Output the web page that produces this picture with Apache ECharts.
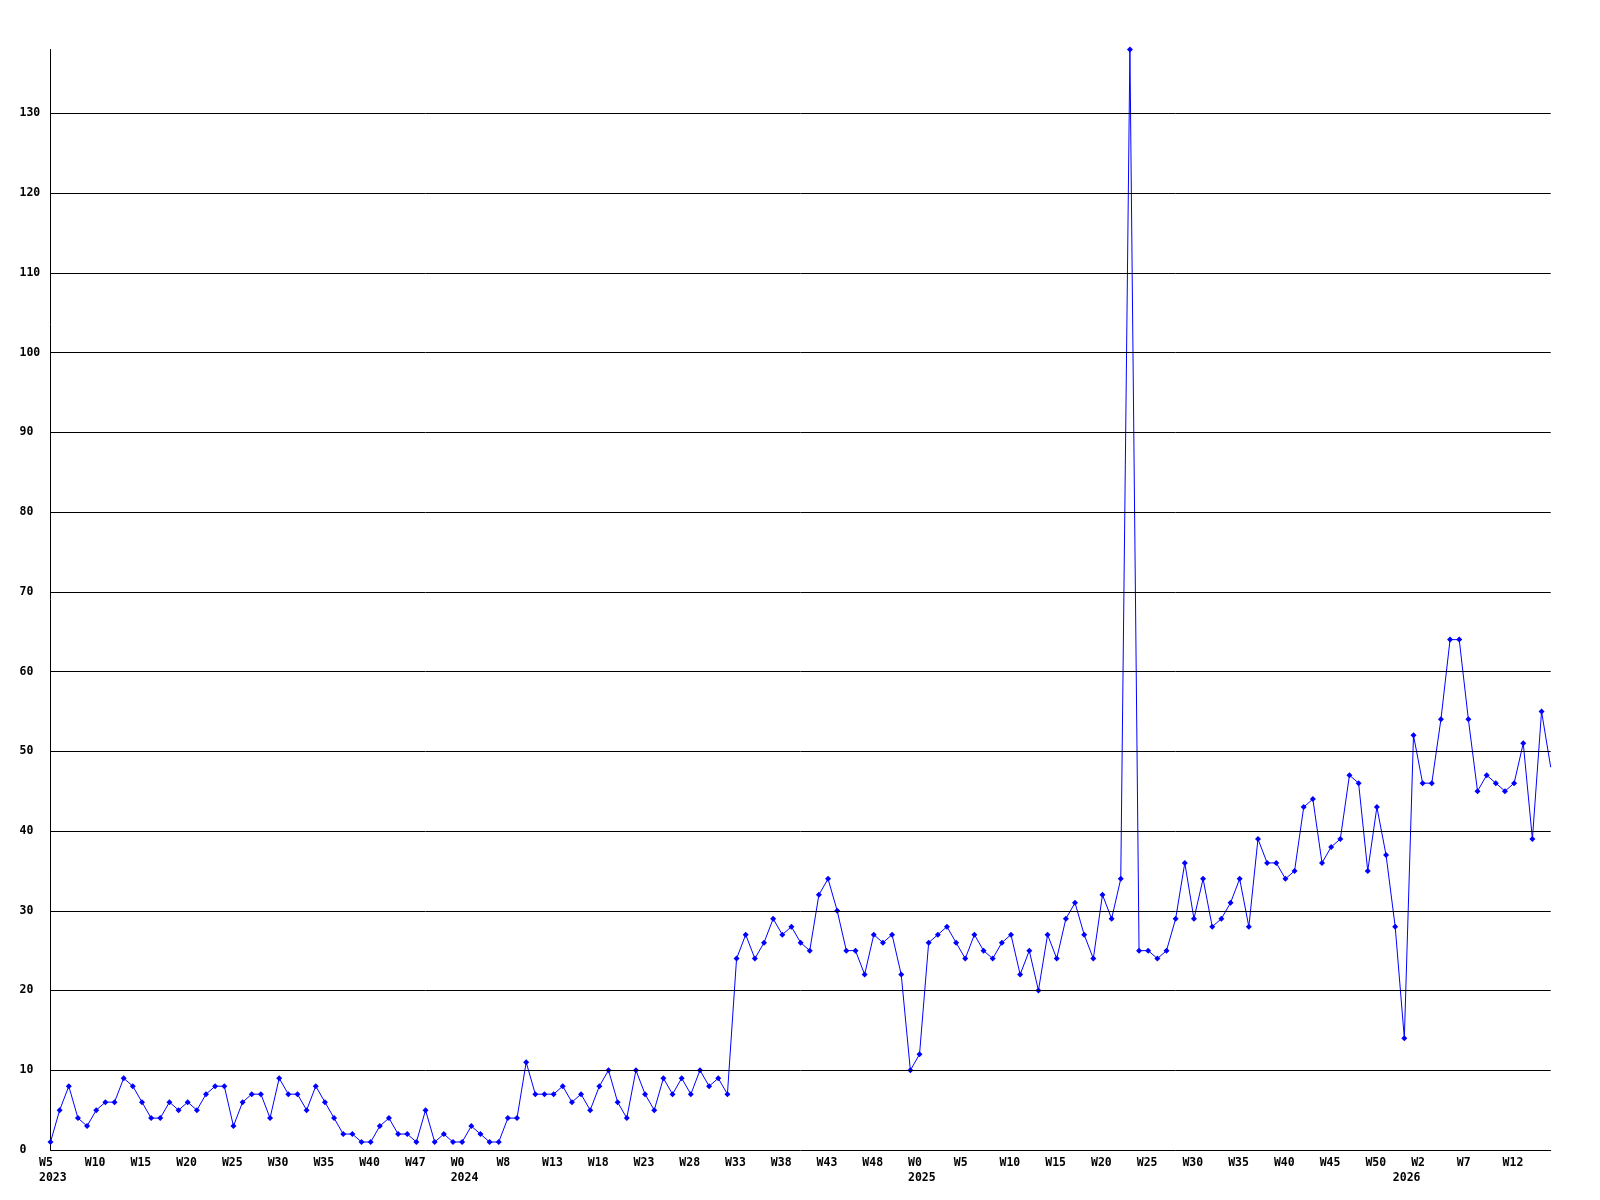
<!DOCTYPE html>
<html>
<head>
<meta charset="utf-8">
<script src="https://cdn.jsdelivr.net/npm/echarts@6/dist/echarts.min.js"></script>
<style>
html, body { margin: 0; padding: 0; background: #ffffff; }
#chart { width: 1600px; height: 1200px; }
</style>
</head>
<body>
<div id="chart"></div>
<script>
// Weekly values, one per point (last point is the partial, unmarked one at the right edge)
const values2023 = [1,5,8,4,3,5,6,6,9,8,6,4,4,6,5,6,5,7,8,8,3,6,7,7,4,9,7,7,5,8,6,4,2,2,1,1,3,4,2,2,1,5,1,2,1,1];
const values2024 = [3,2,1,1,4,4,11,7,7,7,8,6,7,5,8,10,6,4,10,7,5,9,7,9,7,10,8,9,7,24,27,24,26,29,27,28,26,25,32,34,30,25,25,22,27,26,27,22,10,12];
const values2025 = [26,27,28,26,24,27,25,24,26,27,22,25,20,27,24,29,31,27,24,32,29,34,138,25,25,24,25,29,36,29,34,28,29,31,34,28,39,36,36,34,35,43,44,36,38,39,47,46,35,43,37,28,14];
const values2026 = [52,46,46,54,64,64,54,45,47,46,45,46,51,39,55,48];

// Tick labels shown under every 5th point
const weekTicks = ['W5','W10','W15','W20','W25','W30','W35','W40','W47','W0','W8','W13','W18','W23','W28','W33','W38','W43','W48','W0','W5','W10','W15','W20','W25','W30','W35','W40','W45','W50','W2','W7','W12'];
const yearTickIndex = [0, 45, 95, 148];
const yearTickText = ['2023', '2024', '2025', '2026'];
const yTicks = [10,20,30,40,50,60,70,80,90,100,110,120,130];
const yMax = 138;

const values = values2023.concat(values2024, values2025, values2026);
const categories = values.map((v, i) => String(i));
const seriesData = values.map((v, i) => i === values.length - 1 ? { value: v, symbol: 'none' } : v);

const FONT = '"DejaVu Sans Mono", "Liberation Mono", monospace';

const chart = echarts.init(document.getElementById('chart'), null, { renderer: 'canvas' });
chart.setOption({
  backgroundColor: '#ffffff',
  animation: false,
  grid: { left: 50.5, right: 49.3, top: 49.5, bottom: 50, containLabel: false },
  xAxis: {
    type: 'category',
    data: categories,
    boundaryGap: false,
    axisLine: { show: true, lineStyle: { color: '#000', width: 1 } },
    axisTick: { show: false },
    splitLine: { show: false },
    axisLabel: {
      interval: 0,
      margin: 5,
      align: 'center',
      color: '#000',
      fontFamily: FONT,
      fontWeight: 'bold',
      fontSize: 11.5,
      lineHeight: 15.5,
      formatter: function (v, i) {
        const w = (i % 5 === 0 && weekTicks[i / 5] !== undefined) ? weekTicks[i / 5] : '';
        const yi = yearTickIndex.indexOf(i);
        const y = yi >= 0 ? yearTickText[yi] : '';
        if (!w && !y) return '';
        return '{a|' + (w || ' ') + '}\n{a|' + (y || ' ') + '}';
      },
      rich: {
        a: {
          width: 23,
          align: 'left',
          color: '#000',
          fontFamily: FONT,
          fontWeight: 'bold',
          fontSize: 11.5,
          lineHeight: 15.5
        }
      }
    }
  },
  yAxis: {
    type: 'value',
    min: 0,
    max: yMax,
    interval: 10,
    axisLine: { show: true, lineStyle: { color: '#000', width: 1 } },
    axisTick: { show: false },
    splitLine: { show: false },
    axisLabel: {
      showMaxLabel: false,
      align: 'left',
      margin: 31,
      color: '#000',
      fontFamily: FONT,
      fontWeight: 'bold',
      fontSize: 11.5
    }
  },
  series: [{
    type: 'line',
    data: seriesData,
    symbol: 'diamond',
    symbolSize: 6,
    showAllSymbol: true,
    lineStyle: { color: '#0000ff', width: 1 },
    itemStyle: { color: '#0000ff' },
    markLine: {
      silent: true,
      symbol: 'none',
      label: { show: false },
      lineStyle: { color: '#000', width: 1, type: 'solid' },
      data: yTicks.map(t => ({ yAxis: t }))
    }
  }]
});
</script>
</body>
</html>
